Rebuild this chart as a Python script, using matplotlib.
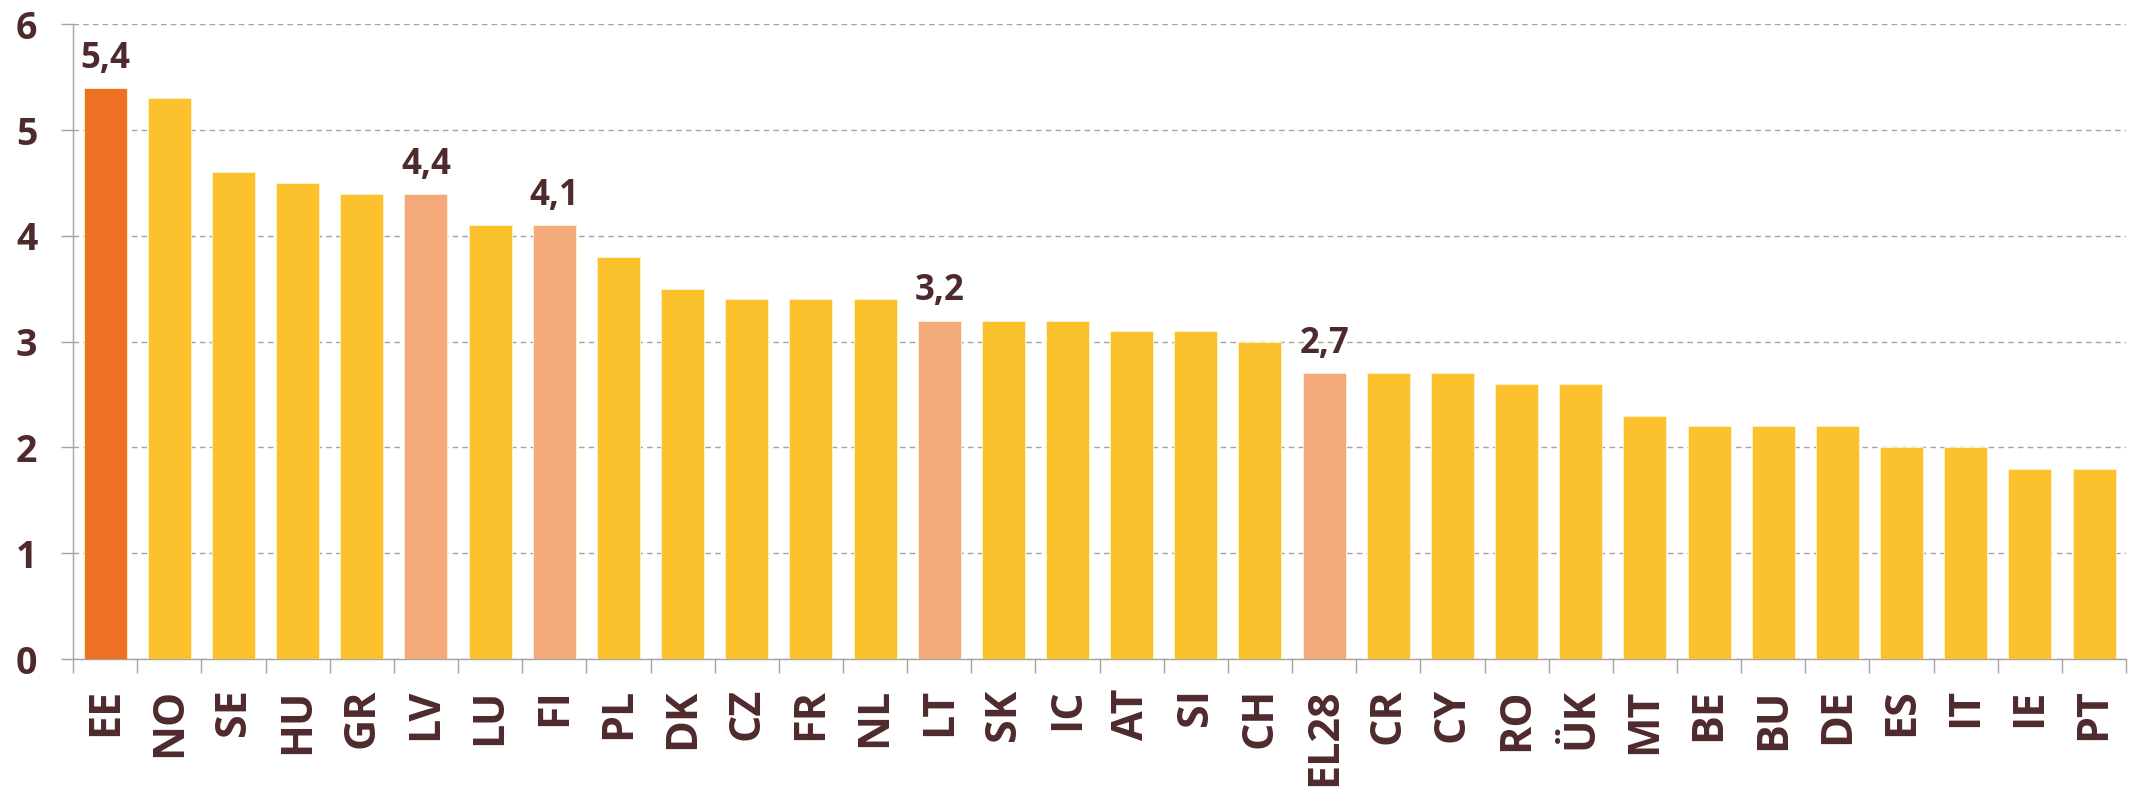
import numpy as np
import matplotlib.pyplot as plt

countries = ['EE', 'NO', 'SE', 'HU', 'GR', 'LV', 'LU', 'FI', 'PL', 'DK', 'CZ', 'FR',
             'NL', 'LT', 'SK', 'IC', 'AT', 'SI', 'CH', 'EL28', 'CR', 'CY', 'RO', 'ÜK',
             'MT', 'BE', 'BU', 'DE', 'ES', 'IT', 'IE', 'PT']
values = [5.4, 5.3, 4.6, 4.5, 4.4, 4.4, 4.1, 4.1, 3.8, 3.5, 3.4, 3.4,
          3.4, 3.2, 3.2, 3.2, 3.1, 3.1, 3.0, 2.7, 2.7, 2.7, 2.6, 2.6,
          2.3, 2.2, 2.2, 2.2, 2.0, 2.0, 1.8, 1.8]
main = ['EE']
highlight = ['LV', 'FI', 'LT', 'EL28']
yticks = [0, 1, 2, 3, 4, 5, 6]

TXT = '#4e2a2c'
GRAY = '#a8a2a2'
plt.rcParams['font.family'] = ['Open Sans', 'DejaVu Sans']

colors = []
for c in countries:
    if c in main:
        colors.append('#ee7023')
    elif c in highlight:
        colors.append('#f4a97b')
    else:
        colors.append('#fcc22d')

fig = plt.figure(figsize=(21.31, 7.88), dpi=100)
ax = fig.add_axes([0.0343, 0.1637, 0.9634, 0.8053])

x = np.arange(len(countries)) + 0.5
ax.bar(x, values, width=0.67, color=colors, edgecolor='#fff3d0', linewidth=0.6, zorder=3)

# value labels on highlighted bars
for xi, v, c in zip(x, values, countries):
    if c in main or c in highlight:
        ax.text(xi, v + 0.19, f'{v:.1f}'.replace('.', ','), ha='center', va='baseline',
                fontsize=25, fontweight='bold', color=TXT)

ax.set_xlim(0, len(countries))
ax.set_ylim(0, 6)
ax.set_yticks(yticks)
ax.set_yticklabels([str(t) for t in yticks], fontsize=27, fontweight='bold', color=TXT)
ax.tick_params(axis='y', length=8.6, width=1, color=GRAY, pad=17)
ax.yaxis.grid(True, linestyle=(0, (4, 3)), color=GRAY, linewidth=1, zorder=0)

ax.set_xticks(x)
ax.set_xticklabels(countries, rotation=90, fontsize=31, fontweight='bold', color=TXT)
ax.set_xticks(np.arange(len(countries) + 1), minor=True)
ax.tick_params(axis='x', which='major', length=0, pad=21)
ax.tick_params(axis='x', which='minor', length=10, width=1, color=GRAY)

for s in ['top', 'right']:
    ax.spines[s].set_visible(False)
for s in ['left', 'bottom']:
    ax.spines[s].set_color(GRAY)
    ax.spines[s].set_linewidth(1)

fig.savefig('out.png', dpi=100)
